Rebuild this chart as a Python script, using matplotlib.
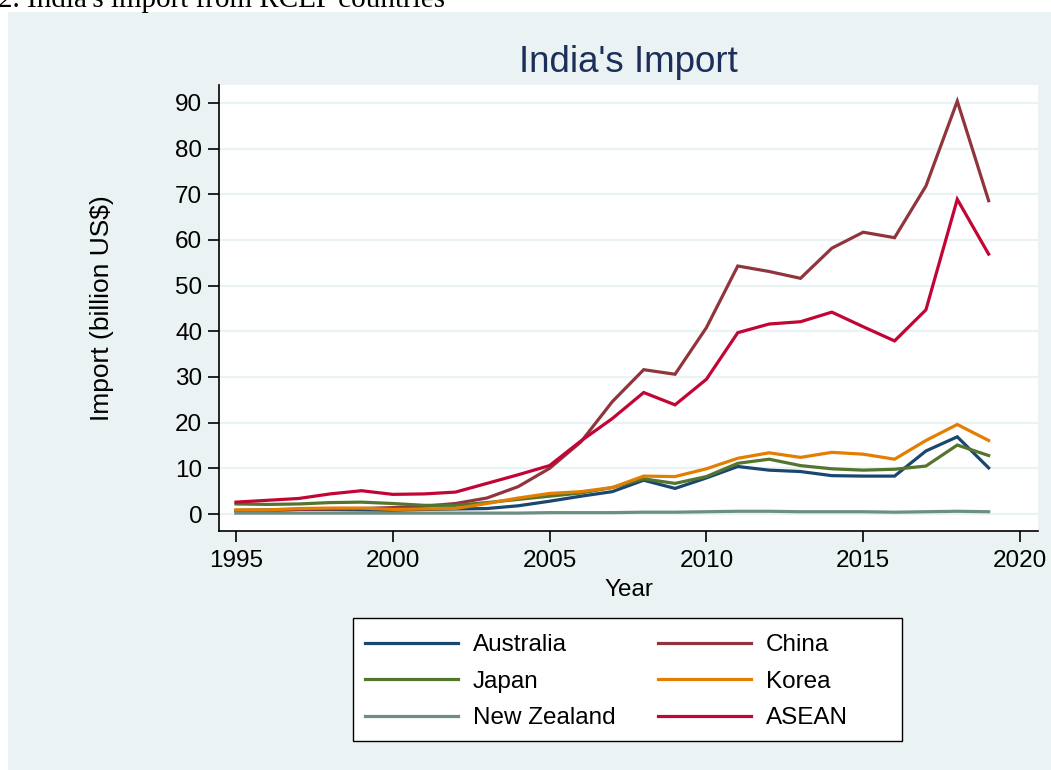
import matplotlib
matplotlib.use("Agg")
import matplotlib.pyplot as plt
from matplotlib.patches import Rectangle

years = list(range(1995, 2020))
australia = [0.8, 0.9, 1.0, 1.0, 0.9, 0.8, 1.0, 1.1, 1.2, 1.8, 2.8, 3.9, 4.9, 7.4, 5.6,
             7.9, 10.4, 9.6, 9.3, 8.4, 8.3, 8.3, 13.8, 16.9, 10.1]
china = [0.5, 0.7, 1.0, 1.1, 1.2, 1.4, 1.7, 2.3, 3.5, 6.0, 10.0, 15.8, 24.6, 31.6, 30.6,
         40.8, 54.3, 53.1, 51.6, 58.2, 61.7, 60.5, 71.8, 90.4, 68.6]
japan = [2.2, 2.1, 2.2, 2.5, 2.6, 2.3, 1.9, 1.9, 2.5, 3.2, 3.9, 4.6, 5.8, 7.7, 6.7,
         8.2, 11.1, 12.0, 10.6, 9.9, 9.6, 9.8, 10.5, 15.1, 12.8]
korea = [0.9, 0.9, 1.2, 1.3, 1.3, 1.0, 1.1, 1.2, 2.3, 3.5, 4.5, 4.9, 5.8, 8.3, 8.2,
         9.9, 12.2, 13.4, 12.4, 13.5, 13.1, 12.0, 16.1, 19.6, 16.1]
new_zealand = [0.2, 0.2, 0.2, 0.2, 0.2, 0.2, 0.2, 0.2, 0.2, 0.2, 0.3, 0.3, 0.3, 0.4, 0.4,
               0.5, 0.6, 0.6, 0.5, 0.5, 0.5, 0.4, 0.5, 0.6, 0.5]
asean = [2.6, 3.0, 3.4, 4.4, 5.1, 4.3, 4.4, 4.8, 6.7, 8.6, 10.6, 16.0, 20.9, 26.6, 23.9,
         29.5, 39.7, 41.6, 42.1, 44.2, 41.0, 37.9, 44.7, 68.9, 56.9]

series = [
    ("Australia", australia, "#1a476f"),
    ("China", china, "#90353b"),
    ("Japan", japan, "#55752f"),
    ("Korea", korea, "#e37e00"),
    ("New Zealand", new_zealand, "#6e8e84"),
    ("ASEAN", asean, "#c10534"),
]

xticks = [1995, 2000, 2005, 2010, 2015, 2020]
yticks = [0, 10, 20, 30, 40, 50, 60, 70, 80, 90]

plt.rcParams['font.family'] = ['Liberation Sans', 'DejaVu Sans']

W, H = 1051, 770
fig = plt.figure(figsize=(W / 100, H / 100), dpi=100, facecolor="white")

bg = "#eaf2f3"
fig.patches.append(Rectangle((8 / W, 0), 1 - 8 / W, 1 - 12 / H, transform=fig.transFigure,
                             facecolor=bg, edgecolor="none", zorder=-5))

fig.text(-2 / W, 1 - 7 / H, "2. India's import from RCEP countries", ha="left", va="baseline",
         fontsize=21, family=["Liberation Serif", "DejaVu Serif"], color="black")

left, right, top, bottom = 219, 1038, 85, 531
ax = fig.add_axes([left / W, 1 - bottom / H, (right - left) / W, (bottom - top) / H])
ax.set_facecolor("white")

for name, vals, col in series:
    ax.plot(years, vals, color=col, lw=2.3, label=name, solid_joinstyle="miter", zorder=3)

ax.set_xlim(1994.458, 2020.574)
ax.set_ylim(-3.72, 93.93)
ax.set_xticks(xticks)
ax.set_yticks(yticks)
ax.tick_params(axis="both", labelsize=17.5, length=8, width=1.2, color="black")
ax.tick_params(axis="x", pad=6)
ax.tick_params(axis="y", pad=4)
ax.grid(axis="y", color=bg, lw=1.6, zorder=1)
ax.set_axisbelow(True)
for s in ["top", "right"]:
    ax.spines[s].set_visible(False)
for s in ["left", "bottom"]:
    ax.spines[s].set_linewidth(1.2)
    ax.spines[s].set_color("black")

ax.set_title("India's Import", fontsize=26.5, color="#1c2e5a", pad=9)
ax.set_xlabel("Year", fontsize=17.5, labelpad=5)
ax.set_ylabel("Import (billion US$)", fontsize=19, labelpad=44)

# legend frame (Stata-style equal-width columns)
fig.patches.append(Rectangle((353 / W, 1 - 741 / H), (902 - 353) / W, (741 - 618) / H,
                             transform=fig.transFigure, facecolor="white",
                             edgecolor="black", lw=1.0, zorder=-1))

handles, labels = ax.get_legend_handles_labels()
order = [0, 2, 4, 1, 3, 5]
leg = fig.legend([handles[i] for i in order], [labels[i] for i in order],
                 ncol=2, loc="upper left", bbox_to_anchor=(365 / W, 1 - 634 / H),
                 fontsize=17.5, frameon=False, handlelength=3.83, handletextpad=0.62,
                 columnspacing=1.73, labelspacing=0.6, borderpad=0, borderaxespad=0)
for lh in leg.get_lines():
    lh.set_linewidth(2.3)

fig.savefig("out.png", dpi=100, facecolor="white")
